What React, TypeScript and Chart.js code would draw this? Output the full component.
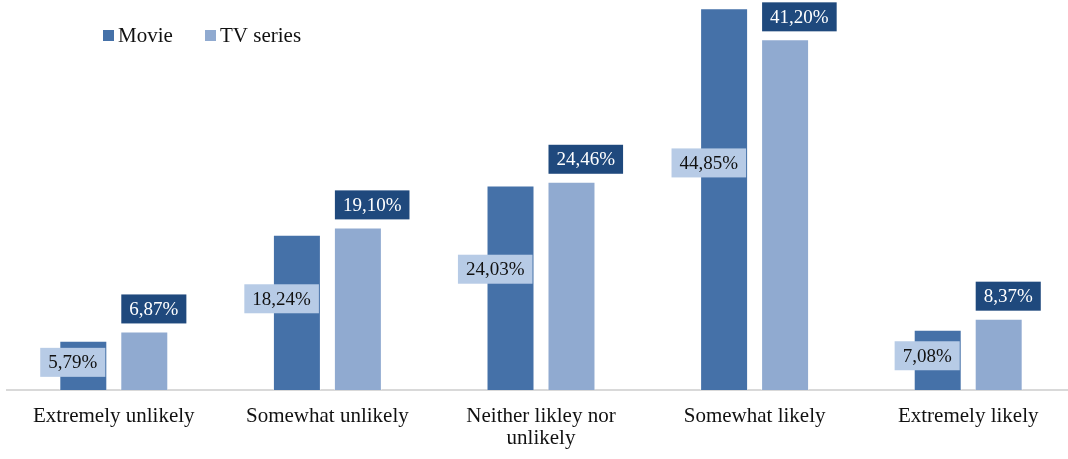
import React, { useEffect, useRef } from "react";
import { Chart, registerables } from "chart.js";

Chart.register(...registerables);

const categories: (string | string[])[] = [
  "Extremely unlikely",
  "Somewhat unlikely",
  ["Neither likley nor", "unlikely"],
  "Somewhat likely",
  "Extremely likely",
];
const movieValues = [5.79, 18.24, 24.03, 44.85, 7.08];
const tvValues = [6.87, 19.1, 24.46, 41.2, 8.37];
const seriesNames = ["Movie", "TV series"];

const MOVIE_COLOR = "#4571a8";
const TV_COLOR = "#90aad0";
const MOVIE_LABEL_BG = "#b7cbe6";
const TV_LABEL_BG = "#1f497d";
const FONT = '"Liberation Serif", "Times New Roman", serif';

const fmt = (v: number) => v.toFixed(2).replace(".", ",") + "%";

const labelPlugin = {
  id: "boxLabels",
  afterDatasetsDraw(chart: any) {
    const ctx = chart.ctx;
    ctx.save();
    ctx.font = `19px ${FONT}`;
    ctx.textAlign = "center";
    ctx.textBaseline = "middle";
    chart.data.datasets.forEach((ds: any, di: number) => {
      const meta = chart.getDatasetMeta(di);
      meta.data.forEach((el: any, i: number) => {
        const v = ds.data[i];
        const text = fmt(v);
        const tw = ctx.measureText(text).width;
        const bw = tw + 16;
        const bh = 29;
        const left = el.x - el.width / 2;
        const right = el.x + el.width / 2;
        let bx: number, by: number;
        if (di === 0) {
          const h = el.base - el.y;
          const cy = el.base - (0.6 * h - 2);
          bx = right - 2 - bw;
          by = cy - bh / 2;
          ctx.fillStyle = MOVIE_LABEL_BG;
          ctx.fillRect(bx, by, bw, bh);
          ctx.fillStyle = "#111111";
        } else {
          bx = left + 1;
          by = el.y - 8 - bh;
          ctx.fillStyle = TV_LABEL_BG;
          ctx.fillRect(bx, by, bw, bh);
          ctx.fillStyle = "#ffffff";
        }
        ctx.fillText(text, bx + bw / 2, by + bh / 2 + 1);
      });
    });
    ctx.restore();
  },
};

const legendPlugin = {
  id: "customLegend",
  afterDraw(chart: any) {
    const ctx = chart.ctx;
    ctx.save();
    ctx.font = `21px ${FONT}`;
    ctx.textBaseline = "middle";
    ctx.textAlign = "left";
    const items = [
      { name: seriesNames[0], color: MOVIE_COLOR, x: 103 },
      { name: seriesNames[1], color: TV_COLOR, x: 205 },
    ];
    items.forEach((it) => {
      ctx.fillStyle = it.color;
      ctx.fillRect(it.x, 30, 11, 11);
      ctx.fillStyle = "#111111";
      ctx.fillText(it.name, it.x + 15, 36);
    });
    ctx.restore();
  },
};

export default function App() {
  const canvasRef = useRef<HTMLCanvasElement | null>(null);

  useEffect(() => {
    if (!canvasRef.current) return;
    const chart = new Chart(canvasRef.current, {
      type: "bar",
      data: {
        labels: categories,
        datasets: [
          {
            label: seriesNames[0],
            data: movieValues,
            backgroundColor: MOVIE_COLOR,
            borderColor: "rgba(255,255,255,0.5)",
            borderWidth: 1,
            categoryPercentage: 0.571,
            barPercentage: 0.787,
          },
          {
            label: seriesNames[1],
            data: tvValues,
            backgroundColor: TV_COLOR,
            borderColor: "rgba(255,255,255,0.5)",
            borderWidth: 1,
            categoryPercentage: 0.571,
            barPercentage: 0.787,
          },
        ],
      },
      options: {
        animation: false,
        responsive: true,
        maintainAspectRatio: false,
        layout: { padding: { left: 7, right: 1, top: 7, bottom: 9 } },
        plugins: {
          legend: { display: false },
          tooltip: { enabled: false },
        },
        scales: {
          x: {
            grid: { display: false, drawTicks: false },
            border: { display: true, color: "#d9d9d9", width: 2 },
            ticks: {
              color: "#111111",
              font: { family: FONT, size: 21, lineHeight: 1.05 },
              padding: 16,
              maxRotation: 0,
              autoSkip: false,
            },
          },
          y: {
            display: false,
            min: 0,
            max: 45,
          },
        },
      },
      plugins: [labelPlugin, legendPlugin],
    });
    return () => chart.destroy();
  }, []);

  return (
    <div style={{ position: "fixed", left: 0, top: 0, width: 1076, height: 475, background: "#fff" }}>
      <canvas ref={canvasRef} />
    </div>
  );
}
